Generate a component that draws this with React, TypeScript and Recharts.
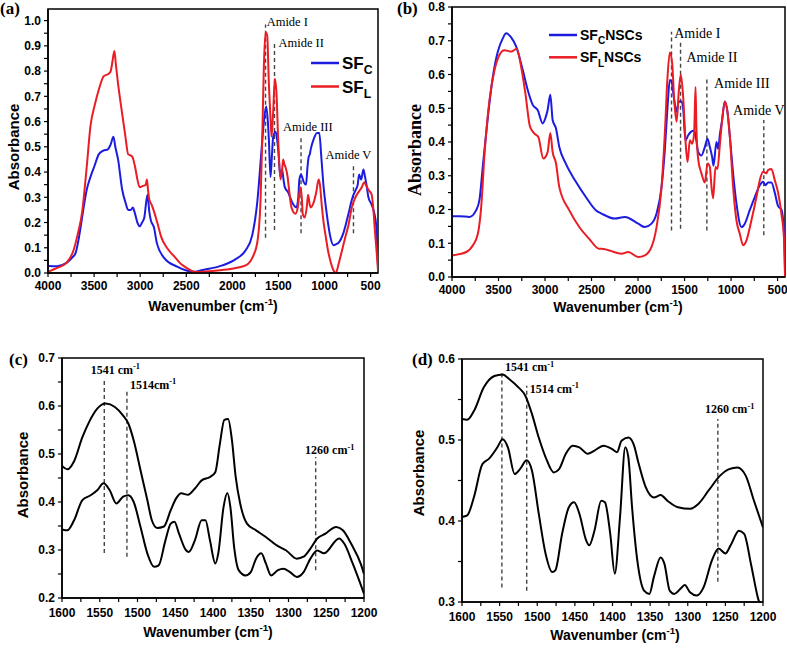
import React from "react";
import {
  LineChart,
  Line,
  XAxis,
  YAxis,
  ReferenceLine,
  ReferenceDot,
  ReferenceArea,
  Legend,
} from "recharts";

type Pt = [number, number];

// (a) SF films, wavenumber / absorbance
const sfC: Pt[] = [
  [4000, 0.028], [3900, 0.027], [3800, 0.04], [3740, 0.06], [3700, 0.08], [3660, 0.15],
  [3630, 0.22], [3580, 0.33], [3540, 0.38], [3490, 0.43], [3450, 0.47], [3400, 0.485],
  [3350, 0.49], [3320, 0.51], [3290, 0.54], [3270, 0.5], [3240, 0.45], [3195, 0.33],
  [3160, 0.28], [3130, 0.25], [3100, 0.25], [3080, 0.26], [3060, 0.24], [3030, 0.2],
  [3005, 0.185], [2980, 0.2], [2955, 0.22], [2935, 0.28], [2920, 0.31], [2900, 0.24],
  [2885, 0.21], [2850, 0.18], [2820, 0.12], [2740, 0.06], [2600, 0.025], [2500, 0.01],
  [2410, 0.005], [2324, 0.012], [2108, 0.03], [1964, 0.055], [1856, 0.09], [1784, 0.15],
  [1730, 0.28], [1683, 0.49], [1658, 0.6], [1633, 0.66], [1615, 0.6], [1604, 0.53],
  [1586, 0.38], [1570, 0.47], [1557, 0.54], [1532, 0.56], [1515, 0.53], [1503, 0.49],
  [1478, 0.38], [1460, 0.41], [1445, 0.37], [1431, 0.34], [1395, 0.32], [1352, 0.28],
  [1305, 0.26], [1285, 0.3], [1273, 0.37], [1255, 0.39], [1226, 0.36], [1201, 0.35],
  [1185, 0.42], [1172, 0.46], [1160, 0.47], [1150, 0.49], [1118, 0.53], [1082, 0.555],
  [1057, 0.555], [1035, 0.46], [1010, 0.34], [985, 0.26], [963, 0.2], [938, 0.145],
  [902, 0.11], [870, 0.115], [848, 0.12], [794, 0.16], [740, 0.235], [704, 0.29],
  [686, 0.31], [660, 0.33], [640, 0.35], [625, 0.39], [603, 0.37], [578, 0.41],
  [560, 0.38], [545, 0.35], [524, 0.3], [488, 0.27], [459, 0.235], [440, 0.19],
  [428, 0.1], [420, 0.03],
];
const sfL: Pt[] = [
  [4000, 0.005], [3900, 0.02], [3800, 0.04], [3723, 0.09], [3680, 0.15], [3630, 0.24],
  [3580, 0.42], [3540, 0.58], [3490, 0.67], [3450, 0.725], [3395, 0.78], [3340, 0.79],
  [3320, 0.8], [3300, 0.84], [3280, 0.88], [3262, 0.82], [3240, 0.75], [3195, 0.63],
  [3160, 0.54], [3130, 0.47], [3100, 0.465], [3084, 0.46], [3055, 0.42], [3030, 0.37],
  [3005, 0.34], [2970, 0.345], [2940, 0.35], [2927, 0.37], [2915, 0.33], [2900, 0.29],
  [2875, 0.27], [2847, 0.24], [2800, 0.18], [2774, 0.145], [2700, 0.095], [2628, 0.065],
  [2570, 0.04], [2518, 0.025], [2450, 0.01], [2400, 0.004], [2324, 0.005], [2108, 0.012],
  [1964, 0.02], [1856, 0.03], [1784, 0.06], [1730, 0.12], [1694, 0.29], [1676, 0.53],
  [1658, 0.82], [1640, 0.955], [1622, 0.94], [1604, 0.75], [1586, 0.61], [1575, 0.54],
  [1557, 0.64], [1539, 0.77], [1521, 0.71], [1503, 0.53], [1478, 0.37], [1460, 0.41],
  [1449, 0.45], [1435, 0.43], [1424, 0.42], [1400, 0.38], [1388, 0.34], [1359, 0.26],
  [1316, 0.235], [1290, 0.26], [1262, 0.34], [1245, 0.29], [1237, 0.235], [1215, 0.22],
  [1190, 0.27], [1179, 0.31], [1160, 0.27], [1150, 0.26], [1118, 0.28], [1090, 0.32],
  [1064, 0.37], [1050, 0.35], [1028, 0.26], [1010, 0.2], [985, 0.14], [963, 0.09],
  [938, 0.05], [902, 0.01], [885, 0.0], [870, 0.005], [848, 0.035], [776, 0.14],
  [740, 0.19], [704, 0.26], [650, 0.31], [596, 0.34], [570, 0.36], [553, 0.35],
  [524, 0.33], [488, 0.31], [470, 0.25], [452, 0.16], [434, 0.08], [420, 0.01],
];

// (b) NSCs
const sfCNSCs: Pt[] = [
  [4000, 0.18], [3918, 0.18], [3811, 0.178], [3740, 0.198], [3704, 0.23], [3668, 0.33],
  [3614, 0.475], [3561, 0.593], [3507, 0.668], [3454, 0.707], [3418, 0.722], [3364, 0.71],
  [3311, 0.683], [3239, 0.613], [3186, 0.554], [3132, 0.51], [3079, 0.495], [3025, 0.455],
  [2997, 0.47], [2972, 0.495], [2943, 0.54], [2918, 0.465], [2882, 0.44], [2847, 0.386],
  [2775, 0.335], [2668, 0.282], [2561, 0.237], [2454, 0.198], [2392, 0.188], [2249, 0.173],
  [2141, 0.178], [1998, 0.158], [1926, 0.148], [1855, 0.158], [1801, 0.188], [1747, 0.267],
  [1712, 0.376], [1683, 0.504], [1658, 0.584], [1640, 0.58], [1611, 0.524], [1586, 0.49],
  [1561, 0.52], [1533, 0.52], [1515, 0.5], [1490, 0.405], [1461, 0.42], [1432, 0.43],
  [1397, 0.434], [1382, 0.42], [1354, 0.371], [1318, 0.36], [1282, 0.385], [1253, 0.41],
  [1228, 0.385], [1203, 0.355], [1189, 0.33], [1157, 0.4], [1139, 0.38], [1121, 0.42],
  [1096, 0.465], [1067, 0.52], [1039, 0.49], [1014, 0.42], [978, 0.307], [942, 0.218],
  [888, 0.148], [852, 0.158], [799, 0.198], [745, 0.237], [691, 0.272], [656, 0.282],
  [630, 0.272], [602, 0.28], [566, 0.28], [530, 0.25], [494, 0.21], [459, 0.2],
  [430, 0.13], [420, 0.02],
];
const sfLNSCs: Pt[] = [
  [4000, 0.064], [3847, 0.074], [3775, 0.094], [3722, 0.128], [3686, 0.208], [3650, 0.366],
  [3597, 0.524], [3543, 0.613], [3490, 0.658], [3436, 0.672], [3364, 0.668], [3304, 0.676],
  [3257, 0.623], [3211, 0.544], [3161, 0.445], [3114, 0.425], [3072, 0.415], [3018, 0.351],
  [2972, 0.37], [2943, 0.427], [2918, 0.37], [2882, 0.337], [2847, 0.267], [2740, 0.198],
  [2632, 0.148], [2525, 0.113], [2418, 0.084], [2392, 0.084], [2177, 0.069], [2105, 0.074],
  [1998, 0.059], [1926, 0.064], [1855, 0.089], [1801, 0.148], [1747, 0.267], [1712, 0.425],
  [1683, 0.593], [1658, 0.665], [1633, 0.633], [1611, 0.524], [1586, 0.46], [1561, 0.553],
  [1540, 0.6], [1515, 0.534], [1490, 0.405], [1468, 0.341], [1443, 0.405], [1418, 0.395],
  [1397, 0.425], [1382, 0.563], [1372, 0.44], [1354, 0.35], [1318, 0.307], [1282, 0.28],
  [1253, 0.336], [1228, 0.326], [1210, 0.267], [1193, 0.233], [1167, 0.326], [1146, 0.32],
  [1121, 0.39], [1096, 0.465], [1067, 0.52], [1039, 0.49], [1014, 0.42], [978, 0.267],
  [942, 0.168], [906, 0.128], [870, 0.094], [835, 0.108], [781, 0.168], [727, 0.237],
  [691, 0.287], [656, 0.312], [620, 0.307], [602, 0.317], [566, 0.32], [530, 0.287],
  [494, 0.25], [459, 0.188], [430, 0.11], [420, 0.0],
];

// (c) amide region, two spectra
const cUpper: Pt[] = [
  [1600, 0.475], [1593, 0.468], [1584, 0.485], [1573, 0.535], [1564, 0.567], [1553, 0.595],
  [1542, 0.605], [1530, 0.598], [1519, 0.58], [1512, 0.563], [1505, 0.528], [1496, 0.466],
  [1487, 0.404], [1481, 0.362], [1474, 0.346], [1465, 0.349], [1456, 0.383], [1449, 0.407],
  [1442, 0.418], [1433, 0.415], [1424, 0.428], [1415, 0.445], [1404, 0.452], [1397, 0.462],
  [1391, 0.52], [1385, 0.571], [1380, 0.573], [1375, 0.53], [1370, 0.453], [1364, 0.397],
  [1355, 0.355], [1343, 0.341], [1330, 0.327], [1316, 0.31], [1303, 0.299], [1289, 0.282],
  [1280, 0.286], [1271, 0.303], [1262, 0.324], [1251, 0.334], [1237, 0.348], [1228, 0.341],
  [1217, 0.313], [1204, 0.27], [1200, 0.25],
];
const cLower: Pt[] = [
  [1600, 0.343], [1593, 0.341], [1584, 0.362], [1573, 0.404], [1562, 0.414], [1553, 0.425],
  [1545, 0.439], [1537, 0.425], [1528, 0.397], [1519, 0.411], [1512, 0.414], [1505, 0.4],
  [1496, 0.348], [1487, 0.293], [1478, 0.265], [1472, 0.268], [1463, 0.32], [1456, 0.355],
  [1451, 0.359], [1445, 0.334], [1436, 0.3], [1432, 0.296], [1424, 0.32], [1415, 0.362],
  [1410, 0.362], [1404, 0.32], [1397, 0.272], [1393, 0.293], [1386, 0.39], [1381, 0.419],
  [1377, 0.39], [1372, 0.306], [1366, 0.258], [1357, 0.247], [1350, 0.254], [1343, 0.282],
  [1336, 0.293], [1330, 0.272], [1323, 0.247], [1314, 0.258], [1307, 0.261], [1298, 0.254],
  [1289, 0.244], [1280, 0.254], [1271, 0.282], [1262, 0.299], [1253, 0.293], [1233, 0.324],
  [1226, 0.313], [1215, 0.272], [1200, 0.209],
];

// (d) amide region, two spectra
const dUpper: Pt[] = [
  [1600, 0.526], [1593, 0.525], [1584, 0.536], [1571, 0.565], [1557, 0.579], [1546, 0.581],
  [1537, 0.575], [1525, 0.565], [1516, 0.555], [1507, 0.532], [1498, 0.503], [1489, 0.479],
  [1478, 0.46], [1471, 0.464], [1462, 0.483], [1453, 0.493], [1444, 0.491], [1433, 0.483],
  [1424, 0.487], [1412, 0.493], [1401, 0.489], [1394, 0.485], [1388, 0.499], [1379, 0.503],
  [1372, 0.495], [1365, 0.47], [1356, 0.442], [1345, 0.429], [1336, 0.432], [1327, 0.425],
  [1313, 0.417], [1297, 0.415], [1286, 0.421], [1272, 0.438], [1257, 0.456], [1245, 0.464],
  [1234, 0.466], [1223, 0.456], [1212, 0.425], [1200, 0.392],
];
const dLower: Pt[] = [
  [1600, 0.405], [1593, 0.407], [1584, 0.43], [1573, 0.47], [1564, 0.477], [1553, 0.491],
  [1546, 0.501], [1539, 0.491], [1530, 0.458], [1523, 0.464], [1514, 0.475], [1507, 0.462],
  [1498, 0.409], [1489, 0.36], [1480, 0.337], [1476, 0.339], [1467, 0.384], [1458, 0.417],
  [1451, 0.423], [1444, 0.409], [1435, 0.376], [1431, 0.37], [1424, 0.388], [1415, 0.425],
  [1410, 0.423], [1403, 0.384], [1397, 0.335], [1390, 0.405], [1383, 0.491], [1379, 0.479],
  [1374, 0.417], [1367, 0.351], [1358, 0.314], [1351, 0.31], [1345, 0.331], [1336, 0.355],
  [1331, 0.347], [1324, 0.314], [1318, 0.31], [1308, 0.318], [1304, 0.321], [1297, 0.312],
  [1288, 0.308], [1279, 0.318], [1268, 0.351], [1259, 0.366], [1250, 0.36], [1243, 0.37],
  [1232, 0.388], [1225, 0.384], [1216, 0.347], [1207, 0.306], [1202, 0.29], [1200, 0.28],
];

const wideTicks = [4000, 3750, 3500, 3250, 3000, 2750, 2500, 2250, 2000, 1750, 1500, 1250, 1000, 750, 500];
const wideLabels = [4000, 3500, 3000, 2500, 2000, 1500, 1000, 500];
const narrowTicks = [1600, 1575, 1550, 1525, 1500, 1475, 1450, 1425, 1400, 1375, 1350, 1325, 1300, 1275, 1250, 1225, 1200];
const narrowLabels = [1600, 1550, 1500, 1450, 1400, 1350, 1300, 1250, 1200];
const aYTicks = [0, 0.05, 0.1, 0.15, 0.2, 0.25, 0.3, 0.35, 0.4, 0.45, 0.5, 0.55, 0.6, 0.65, 0.7, 0.75, 0.8, 0.85, 0.9, 0.95, 1.0];
const bYTicks = [0, 0.05, 0.1, 0.15, 0.2, 0.25, 0.3, 0.35, 0.4, 0.45, 0.5, 0.55, 0.6, 0.65, 0.7, 0.75, 0.8];
const cYTicks = [0.2, 0.25, 0.3, 0.35, 0.4, 0.45, 0.5, 0.55, 0.6, 0.65, 0.7];
const dYTicks = [0.3, 0.35, 0.4, 0.45, 0.5, 0.55, 0.6];

type Mark = { x: number; y1: number; y2: number; text: string; sup?: string; tx: number; ty: number };

const aMarks: Mark[] = [
  { x: 1640, y1: 0.14, y2: 0.985, text: "Amide I", tx: 1628, ty: 0.995 },
  { x: 1543, y1: 0.17, y2: 0.91, text: "Amide II", tx: 1500, ty: 0.913 },
  { x: 1255, y1: 0.157, y2: 0.534, text: "Amide III", tx: 1450, ty: 0.58 },
  { x: 686, y1: 0.157, y2: 0.435, text: "Amide V", tx: 990, ty: 0.468 },
];
const bMarks: Mark[] = [
  { x: 1640, y1: 0.138, y2: 0.727, text: "Amide I", tx: 1611, ty: 0.722 },
  { x: 1543, y1: 0.143, y2: 0.7, text: "Amide II", tx: 1479, ty: 0.653 },
  { x: 1260, y1: 0.138, y2: 0.589, text: "Amide III", tx: 1182, ty: 0.576 },
  { x: 648, y1: 0.124, y2: 0.465, text: "Amide V", tx: 978, ty: 0.495 },
];
const cMarks: Mark[] = [
  { x: 1544, y1: 0.294, y2: 0.655, text: "1541 cm", sup: "-1", tx: 1562, ty: 0.675 },
  { x: 1514, y1: 0.286, y2: 0.633, text: "1514cm", sup: "-1", tx: 1510, ty: 0.645 },
  { x: 1264, y1: 0.258, y2: 0.494, text: "1260 cm", sup: "-1", tx: 1278, ty: 0.508 },
];
const dMarks: Mark[] = [
  { x: 1547, y1: 0.318, y2: 0.584, text: "1541 cm", sup: "-1", tx: 1543, ty: 0.59 },
  { x: 1514, y1: 0.314, y2: 0.567, text: "1514 cm", sup: "-1", tx: 1510, ty: 0.563 },
  { x: 1260, y1: 0.325, y2: 0.526, text: "1260 cm", sup: "-1", tx: 1277, ty: 0.538 },
];

const SANS = "'Liberation Sans', Arial, sans-serif";
const SERIF = "'Liberation Serif', 'Times New Roman', serif";
const BLUE = "#1c1ce0";
const RED = "#ea1c24";

function SupText(props: {
  x: number; y: number; main: string; sup?: string; sub?: string; tail?: string;
  size: number; family: string; weight?: number; anchor?: string;
}) {
  const { x, y, main, sup, sub, tail, size, family, weight, anchor } = props;
  return (
    <text x={x} y={y} fontFamily={family} fontSize={size} fontWeight={weight ?? 400}
      textAnchor={anchor ?? "start"} fill="#000">
      <tspan>{main}</tspan>
      {sup && <tspan dy={-size * 0.4} fontSize={size * 0.7}>{sup}</tspan>}
      {sub && <tspan dy={size * 0.3} fontSize={size * 0.72}>{sub}</tspan>}
      {tail && <tspan dy={sup ? size * 0.4 : sub ? -size * 0.3 : 0}>{tail}</tspan>}
    </text>
  );
}

type Box = { l: number; t: number; r: number; b: number };
type LegendItem = { color: string; main: string; sub: string; tail?: string };

type PanelProps = {
  x0: number; y0: number; w: number; h: number; plot: Box;
  xDomain: [number, number]; yDomain: [number, number];
  xTicks: number[]; xLabels: number[]; yTicks: number[]; xTickMargin: number;
  series: { data: Pt[]; color: string; name: string }[];
  marks: Mark[]; markFont: { family: string; size: number; weight: number };
  tag: string; tagPos: [number, number];
  yTitle: { x: number; y: number; family: string; size: number };
  xTitle: { x: number; y: number };
  legend?: { left: number; top: number; size: number; gap: number; items: LegendItem[] };
};

function Panel(p: PanelProps) {
  const { x0, y0, w, h, plot } = p;
  const tickStyle = { fontFamily: SANS, fontWeight: 700, fontSize: 12, fill: "#000" };
  const yFmt = (v: number) => (Math.abs(v * 10 - Math.round(v * 10)) < 1e-6 ? v.toFixed(1) : "");
  const xFmt = (v: number) => (p.xLabels.includes(v) ? String(v) : "");
  const lg = p.legend;
  return (
    <div style={{ position: "absolute", left: x0, top: y0, width: w, height: h }}>
      <LineChart width={w} height={h}
        margin={{ top: plot.t - y0, right: x0 + w - plot.r, bottom: 0, left: 0 }}>
        <XAxis type="number" dataKey="x" domain={p.xDomain} reversed allowDataOverflow
          ticks={p.xTicks} interval={0} tickFormatter={xFmt} height={y0 + h - plot.b}
          tickSize={4} tickMargin={p.xTickMargin} tick={tickStyle}
          axisLine={{ stroke: "#000", strokeWidth: 1.5 }} tickLine={{ stroke: "#000", strokeWidth: 1.2 }}
          label={{
            content: () => (
              <SupText x={p.xTitle.x - x0} y={p.xTitle.y - y0} main="Wavenumber (cm" sup="-1" tail=")"
                size={14} family={SANS} weight={700} anchor="middle" />
            ),
          }} />
        <YAxis type="number" domain={p.yDomain} allowDataOverflow ticks={p.yTicks} interval={0}
          tickFormatter={yFmt} width={plot.l - x0} tickSize={4} tickMargin={3} tick={tickStyle}
          axisLine={{ stroke: "#000", strokeWidth: 1.5 }} tickLine={{ stroke: "#000", strokeWidth: 1.2 }}
          label={{
            content: () => (
              <g>
                <text x={p.yTitle.x - x0} y={p.yTitle.y - y0} dy="0.35em" textAnchor="middle"
                  transform={`rotate(-90 ${p.yTitle.x - x0} ${p.yTitle.y - y0})`}
                  fontFamily={p.yTitle.family} fontSize={p.yTitle.size} fontWeight={700} fill="#000">
                  Absorbance
                </text>
                <text x={p.tagPos[0] - x0} y={p.tagPos[1] - y0} fontFamily={SERIF} fontSize={17}
                  fontWeight={700} fill="#000">{p.tag}</text>
              </g>
            ),
          }} />
        <ReferenceArea x1={p.xDomain[0]} x2={p.xDomain[1]} y1={p.yDomain[0]} y2={p.yDomain[1]}
          fill="none" fillOpacity={0} stroke="#000" strokeWidth={1.5} ifOverflow="visible" />
        {p.marks.map((m) => (
          <ReferenceLine key={"l" + m.text} segment={[{ x: m.x, y: m.y1 }, { x: m.x, y: m.y2 }]}
            stroke="#444" strokeWidth={1.4} strokeDasharray="4 3" ifOverflow="visible" />
        ))}
        {p.marks.map((m) => (
          <ReferenceDot key={"t" + m.text} x={m.tx} y={m.ty} r={0} fill="none" stroke="none"
            ifOverflow="visible"
            label={{
              content: (lp: any) => {
                const vb = lp.viewBox || {};
                return (
                  <SupText x={vb.x} y={vb.y + p.markFont.size * 0.35} main={m.text} sup={m.sup}
                    size={p.markFont.size} family={p.markFont.family} weight={p.markFont.weight} />
                );
              },
            }} />
        ))}
        {p.series.map((s) => (
          <Line key={s.name} name={s.name} data={s.data.map(([x, y]) => ({ x, y }))} dataKey="y"
            type="monotone" stroke={s.color} strokeWidth={2} dot={false} isAnimationActive={false} />
        ))}
        {lg && (
          <Legend layout="vertical" align="center" verticalAlign="middle"
            wrapperStyle={{ left: lg.left - x0, top: lg.top - y0, width: 140, height: 60 }}
            content={() => (
              <svg width={140} height={60}>
                {lg.items.map((it, i) => (
                  <g key={it.main + it.sub + i}>
                    <line x1={0} x2={28} y1={10 + i * lg.gap} y2={10 + i * lg.gap}
                      stroke={it.color} strokeWidth={2.5} />
                    <SupText x={31} y={10 + i * lg.gap + lg.size * 0.36} main={it.main} sub={it.sub}
                      tail={it.tail} size={lg.size} family={SANS} weight={700} />
                  </g>
                ))}
              </svg>
            )} />
        )}
      </LineChart>
    </div>
  );
}

export default function App() {
  return (
    <div style={{ position: "absolute", left: 0, top: 0, width: 787, height: 648, background: "#fff" }}>
      <Panel x0={0} y0={0} w={390} h={320} plot={{ l: 48, t: 9, r: 378, b: 273 }}
        xDomain={[420, 4000]} yDomain={[0, 1.046]} xTicks={wideTicks} xLabels={wideLabels}
        yTicks={aYTicks} xTickMargin={4}
        series={[{ data: sfC, color: BLUE, name: "SFC" }, { data: sfL, color: RED, name: "SFL" }]}
        marks={aMarks} markFont={{ family: SERIF, size: 12.5, weight: 400 }}
        tag="(a)" tagPos={[0, 14]} yTitle={{ x: 14, y: 147, family: SANS, size: 15 }}
        xTitle={{ x: 213, y: 311 }}
        legend={{ left: 311, top: 53, size: 17, gap: 23.5,
          items: [{ color: BLUE, main: "SF", sub: "C" }, { color: RED, main: "SF", sub: "L" }] }} />
      <Panel x0={390} y0={0} w={397} h={320} plot={{ l: 452, t: 7, r: 785, b: 277 }}
        xDomain={[420, 4000]} yDomain={[0, 0.8]} xTicks={wideTicks} xLabels={wideLabels}
        yTicks={bYTicks} xTickMargin={4}
        series={[{ data: sfCNSCs, color: BLUE, name: "SFCNSCs" }, { data: sfLNSCs, color: RED, name: "SFLNSCs" }]}
        marks={bMarks} markFont={{ family: SERIF, size: 14, weight: 400 }}
        tag="(b)" tagPos={[397, 14]} yTitle={{ x: 415, y: 150, family: SERIF, size: 18 }}
        xTitle={{ x: 618, y: 312 }}
        legend={{ left: 549, top: 25, size: 14, gap: 22.3,
          items: [{ color: BLUE, main: "SF", sub: "C", tail: "NSCs" }, { color: RED, main: "SF", sub: "L", tail: "NSCs" }] }} />
      <Panel x0={0} y0={325} w={390} h={323} plot={{ l: 62, t: 358, r: 364, b: 598 }}
        xDomain={[1200, 1600]} yDomain={[0.2, 0.7]} xTicks={narrowTicks} xLabels={narrowLabels}
        yTicks={cYTicks} xTickMargin={6}
        series={[{ data: cUpper, color: "#000", name: "upper" }, { data: cLower, color: "#000", name: "lower" }]}
        marks={cMarks} markFont={{ family: SERIF, size: 12, weight: 700 }}
        tag="(c)" tagPos={[9, 365]} yTitle={{ x: 23, y: 475, family: SANS, size: 15 }}
        xTitle={{ x: 208, y: 637 }} />
      <Panel x0={390} y0={325} w={397} h={323} plot={{ l: 462, t: 359, r: 763, b: 602 }}
        xDomain={[1200, 1600]} yDomain={[0.3, 0.6]} xTicks={narrowTicks} xLabels={narrowLabels}
        yTicks={dYTicks} xTickMargin={6}
        series={[{ data: dUpper, color: "#000", name: "upper" }, { data: dLower, color: "#000", name: "lower" }]}
        marks={dMarks} markFont={{ family: SERIF, size: 12, weight: 700 }}
        tag="(d)" tagPos={[412, 365]} yTitle={{ x: 419, y: 473, family: SANS, size: 15 }}
        xTitle={{ x: 615, y: 640 }} />
    </div>
  );
}
